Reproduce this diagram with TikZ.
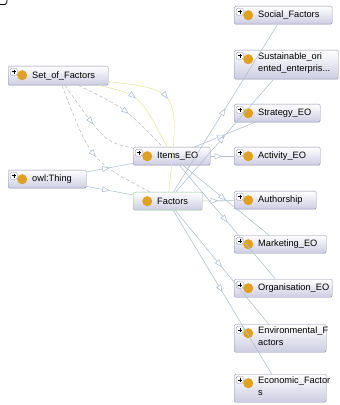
\documentclass[tikz,border=0pt]{standalone}
\usepackage{fontspec}
\setmainfont{Liberation Sans}
\usetikzlibrary{arrows.meta}
\usetikzlibrary{decorations.markings}
\usepackage{xcolor}

\definecolor{boxline}{HTML}{8C8CAA}
\definecolor{boxfill}{HTML}{CCCCE2}
\definecolor{rootline}{HTML}{8CC88C}
\definecolor{dotc}{HTML}{E0A020}
\definecolor{edgec}{HTML}{B2C2D0}
\definecolor{relc}{HTML}{C0C0C0}
\definecolor{yelc}{HTML}{E6E6A4}
\newcommand\px{0.03cm}
\newcommand\classdot{\fill[dotc] ([xshift=14*\px,yshift=-9*\px]path picture bounding box.north west) circle (5*\px);}
\newcommand\plusmark{%
  \draw[boxline,fill=white,line width=0.3pt] ([xshift=2*\px,yshift=-2*\px]path picture bounding box.north west) rectangle ++(7*\px,-7*\px);
  \draw[black,line width=0.4pt] ([xshift=3.5*\px,yshift=-5.5*\px]path picture bounding box.north west) -- ++(4*\px,0)
    ([xshift=5.5*\px,yshift=-3.5*\px]path picture bounding box.north west) -- ++(0,-4*\px);}

\tikzset{
  classbox/.style 2 args={draw=boxline, rounded corners=1.2pt, top color=white, bottom color=boxfill,
    inner sep=0pt, anchor=north west, minimum width=#1*\px, minimum height=#2*\px,
    path picture={\classdot\plusmark}},
  rootbox/.style 2 args={classbox={#1}{#2}, draw=rootline, path picture={\classdot}},
  lbl/.style={anchor=west, xshift=24*\px, inner sep=0pt, font=\fontsize{7.9}{10.2}\selectfont},
  lbltwo/.style={lbl, anchor=north west, yshift=-3*\px, align=left},
  isa/.style={draw=edgec, line width=0.5pt, postaction=decorate,
    decoration={markings, mark=at position #1 with {\arrow{Triangle[color=edgec, fill=white, length=6.5pt, width=5pt, line width=0.5pt]}}}},
  isa/.default=0.5,
  rel/.style={isa=#1, draw=relc, dash pattern=on 3pt off 2pt},
  rel/.default=0.5,
  yel/.style={isa=#1, draw=yelc},
  yel/.default=0.5
}

\begin{document}
\begin{tikzpicture}[x=0.03cm,y=-0.03cm]
\useasboundingbox (0,0) rectangle (339,405);

% left column
\node[classbox={100}{19}, label={[lbl]west:Set\_of\_Factors}] (setf) at (8,66) {};
\node[classbox={78}{18}, label={[lbl]west:owl:Thing}] (thing) at (8,170) {};
\node[classbox={77}{18}, label={[lbl]west:Items\_EO}] (items) at (133,147) {};
\node[rootbox={69}{18}, label={[lbl]west:Factors}] (factors) at (133,192) {};

% right column
\node[classbox={98}{18}, label={[lbl]west:Social\_Factors}] (social) at (234,6) {};
\node[classbox={104}{29}, label={[lbltwo]north west:Sustainable\_ori\\ented\_enterpris...}] (sustain) at (234,50) {};
\node[classbox={86}{18}, label={[lbl]west:Strategy\_EO}] (strategy) at (234,104) {};
\node[classbox={86}{18}, label={[lbl]west:Activity\_EO}] (activity) at (234,147) {};
\node[classbox={82}{18}, label={[lbl]west:Authorship}] (author) at (234,191) {};
\node[classbox={92}{18}, label={[lbl]west:Marketing\_EO}] (market) at (234,235) {};
\node[classbox={98}{18}, label={[lbl]west:Organisation\_EO}] (organ) at (234,279) {};
\node[classbox={92}{28}, label={[lbltwo]north west:Environmental\_F\\actors}] (environ) at (234,324) {};
\node[classbox={92}{28}, label={[lbltwo]north west:Economic\_Factor\\s}] (econ) at (234,374) {};

% is-a edges
\draw[isa] (thing) -- (items);
\draw[isa] (thing) -- (factors);
\draw[isa] (items) -- (activity);
\draw[isa] (items) -- (strategy);
\draw[isa] (items) -- (market);
\draw[isa] (items) -- (organ);
\draw[isa] (factors) -- (author);
\draw[isa] (factors) -- (social);
\draw[isa] (factors) -- (sustain);
\draw[isa] (factors) -- (environ);
\draw[isa] (factors) -- (econ);

% other relations
\draw[rel=0.55] (setf) .. controls (91,161) .. (factors);
\draw[rel] (setf) .. controls (105,142) .. (items);
\draw[rel=0.55] (setf) .. controls (125,108) .. (items);
\draw[yel=0.4] (setf) .. controls (140,95) .. (items);
\draw[yel=0.4] (setf) .. controls (180,90) .. (factors);

\draw[line width=0.7pt] (0,4.5) -- (5,4.5) to[out=0,in=-90] (7,0);
\end{tikzpicture}
\end{document}
